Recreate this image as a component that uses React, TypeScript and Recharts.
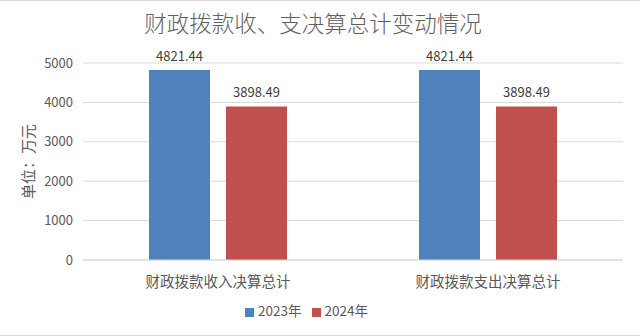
import React from 'react';
import { BarChart, Bar, XAxis, YAxis, CartesianGrid, Legend, LabelList } from 'recharts';

const categories = ['财政拨款收入决算总计', '财政拨款支出决算总计'];
const values2023 = [4821.44, 4821.44];
const values2024 = [3898.49, 3898.49];
const yTicks = [0, 1000, 2000, 3000, 4000, 5000];

const data = categories.map((name, i) => ({
  name,
  y2023: values2023[i],
  y2024: values2024[i],
}));

const font = '"Noto Sans CJK SC", "Noto Sans", sans-serif';

const App: React.FC = () => {
  return (
    <div
      style={{
        position: 'absolute',
        left: 0,
        top: 0,
        width: 640,
        height: 336,
        background: '#fff',
        fontFamily: font,
        borderTop: '1px solid #d9d9d9',
        borderBottom: '1px solid #d9d9d9',
        boxSizing: 'border-box',
      }}
    >
      <div
        style={{
          position: 'absolute',
          top: 6,
          left: 143,
          width: 340,
          textAlign: 'center',
          fontSize: 22.5,
          fontWeight: 300,
          color: '#5f5f5f',
          lineHeight: '30px',
          whiteSpace: 'nowrap',
        }}
      >
        财政拨款收、支决算总计变动情况
      </div>
      <BarChart
        width={640}
        height={334}
        data={data}
        margin={{ top: 62, right: 17, left: 0, bottom: 0 }}
        barCategoryGap={66}
        barGap={16}
      >
        <CartesianGrid vertical={false} stroke="#d9d9d9" />
        <XAxis
          dataKey="name"
          height={40}
          tickLine={false}
          tickMargin={11}
          axisLine={{ stroke: '#d9d9d9' }}
          tick={{ fontSize: 14.5, fill: '#595959', fontFamily: font }}
        />
        <YAxis
          width={83}
          domain={[0, 5000]}
          ticks={yTicks}
          axisLine={false}
          tickLine={false}
          tickMargin={4}
          tick={{ fontSize: 13, fill: '#595959', fontFamily: font }}
          label={{
            value: '单位：万元',
            angle: -90,
            position: 'center',
            dx: -13,
            style: { fontSize: 15, fill: '#595959', fontFamily: font },
          }}
        />
        <Legend
          verticalAlign="bottom"
          iconType="square"
          iconSize={9}
          wrapperStyle={{ height: 35, fontSize: 13.5, fontFamily: font }}
          formatter={(v: string) => <span style={{ color: '#595959' }}>{v}</span>}
        />
        <Bar dataKey="y2023" name="2023年" fill="#4F81BD" isAnimationActive={false}>
          <LabelList dataKey="y2023" position="top" offset={9} style={{ fontSize: 13, fill: '#404040', fontFamily: font }} />
        </Bar>
        <Bar dataKey="y2024" name="2024年" fill="#C0504D" isAnimationActive={false}>
          <LabelList dataKey="y2024" position="top" offset={9} style={{ fontSize: 13, fill: '#404040', fontFamily: font }} />
        </Bar>
      </BarChart>
    </div>
  );
};

export default App;
